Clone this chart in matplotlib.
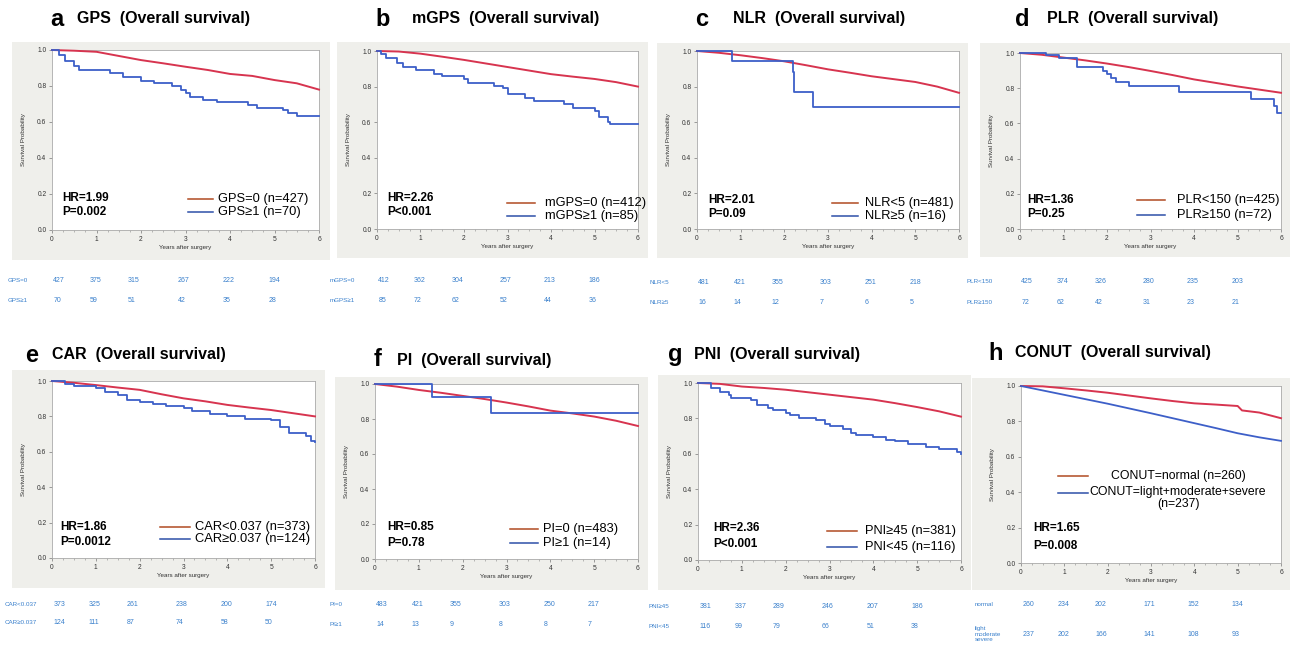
import matplotlib
matplotlib.use("Agg")
import matplotlib.pyplot as plt
from matplotlib.lines import Line2D
from matplotlib.patches import Rectangle

plt.rcParams['font.family'] = ['Liberation Sans', 'DejaVu Sans']

W, H = 1290, 646

# ---------------- data ----------------
panel_letters = ['a', 'b', 'c', 'd', 'e', 'f', 'g', 'h']
panel_names = ['GPS', 'mGPS', 'NLR', 'PLR', 'CAR', 'PI', 'PNI', 'CONUT']
hr_text = ['HR=1.99', 'HR=2.26', 'HR=2.01', 'HR=1.36', 'HR=1.86', 'HR=0.85', 'HR=2.36', 'HR=1.65']
p_text = ['P=0.002', 'P<0.001', 'P=0.09', 'P=0.25', 'P=0.0012', 'P=0.78', 'P<0.001', 'P=0.008']
legend_1 = ['GPS=0 (n=427)', 'mGPS=0 (n=412)', 'NLR<5 (n=481)', 'PLR<150 (n=425)',
            'CAR<0.037 (n=373)', 'PI=0 (n=483)', 'PNI≥45 (n=381)', 'CONUT=normal (n=260)']
legend_2 = ['GPS≥1 (n=70)', 'mGPS≥1 (n=85)', 'NLR≥5 (n=16)', 'PLR≥150 (n=72)',
            'CAR≥0.037 (n=124)', 'PI≥1 (n=14)', 'PNI<45 (n=116)', 'CONUT=light+moderate+severe\n(n=237)']
risk_label_1 = ['GPS=0', 'mGPS=0', 'NLR<5', 'PLR<150', 'CAR<0.037', 'PI=0', 'PNI≥45', 'normal']
risk_label_2 = ['GPS≥1', 'mGPS≥1', 'NLR≥5', 'PLR≥150', 'CAR≥0.037', 'PI≥1', 'PNI<45', 'light\nmoderate\nsevere']
risk_1 = [[427, 375, 315, 267, 222, 194],
          [412, 362, 304, 257, 213, 186],
          [481, 421, 355, 303, 251, 218],
          [425, 374, 326, 280, 235, 203],
          [373, 325, 261, 238, 200, 174],
          [483, 421, 355, 303, 250, 217],
          [381, 337, 289, 246, 207, 186],
          [260, 234, 202, 171, 152, 134]]
risk_2 = [[70, 59, 51, 42, 35, 28],
          [85, 72, 62, 52, 44, 36],
          [16, 14, 12, 7, 6, 5],
          [72, 62, 42, 31, 23, 21],
          [124, 111, 87, 74, 58, 50],
          [14, 13, 9, 8, 8, 7],
          [116, 99, 79, 66, 51, 38],
          [237, 202, 166, 141, 108, 93]]

half_years = [0, 0.5, 1, 1.5, 2, 2.5, 3, 3.5, 4, 4.5, 5, 5.5, 6]
red_t = [half_years] * 7 + [[0, 0.5, 1, 1.5, 2, 2.5, 3, 3.5, 4, 4.5, 5, 5.1, 5.5, 6]]
red_s = [[1.0, 0.996, 0.99, 0.967, 0.944, 0.926, 0.907, 0.889, 0.867, 0.856, 0.833, 0.815, 0.78],
         [1.0, 0.997, 0.985, 0.968, 0.95, 0.93, 0.91, 0.89, 0.87, 0.856, 0.843, 0.825, 0.80],
         [1.0, 0.99, 0.976, 0.96, 0.942, 0.92, 0.897, 0.878, 0.858, 0.842, 0.826, 0.80, 0.765],
         [1.0, 0.99, 0.974, 0.958, 0.94, 0.92, 0.898, 0.875, 0.85, 0.83, 0.81, 0.792, 0.774],
         [1.0, 0.99, 0.977, 0.963, 0.95, 0.925, 0.902, 0.885, 0.865, 0.85, 0.836, 0.818, 0.80],
         [1.0, 0.985, 0.966, 0.95, 0.932, 0.914, 0.894, 0.872, 0.848, 0.832, 0.814, 0.79, 0.76],
         [1.0, 0.995, 0.98, 0.972, 0.962, 0.948, 0.934, 0.92, 0.906, 0.886, 0.864, 0.84, 0.81],
         [1.0, 0.998, 0.987, 0.975, 0.962, 0.946, 0.93, 0.915, 0.902, 0.895, 0.887, 0.862, 0.85, 0.818]]

blue_t = [[0, 0.15, 0.3, 0.5, 0.6, 1.3, 1.6, 2.0, 2.3, 2.7, 2.9, 3.0, 3.1, 3.4, 3.7, 4.4, 4.6, 5.2, 5.3, 5.5, 6.0],
          [0, 0.1, 0.2, 0.45, 0.6, 0.9, 1.3, 1.5, 2.0, 2.1, 2.7, 2.9, 3.0, 3.4, 3.6, 4.3, 4.5, 5.0, 5.1, 5.3, 5.35, 6.0],
          [0, 0.8, 2.2, 2.22, 2.65, 6.0],
          [0, 0.6, 0.9, 1.3, 1.9, 2.0, 2.1, 2.2, 2.5, 3.65, 5.3, 5.85, 5.9, 6.0],
          [0, 0.3, 0.5, 1.0, 1.2, 1.5, 1.7, 2.0, 2.3, 2.6, 3.0, 3.2, 3.6, 4.0, 4.4, 5.0, 5.2, 5.4, 5.8, 5.9, 6.0],
          [0, 1.3, 2.65, 6.0],
          [0, 0.3, 0.5, 0.7, 0.75, 1.2, 1.35, 1.6, 1.7, 2.0, 2.1, 2.3, 2.7, 2.9, 3.0, 3.3, 3.5, 3.6, 4.0, 4.3, 4.5, 4.8, 5.2, 5.5, 5.9, 6.0],
          half_years]
blue_s = [[1.0, 0.97, 0.94, 0.91, 0.89, 0.87, 0.85, 0.83, 0.815, 0.80, 0.78, 0.76, 0.74, 0.725, 0.71, 0.695, 0.68, 0.665, 0.65, 0.635, 0.635],
          [1.0, 0.985, 0.96, 0.93, 0.91, 0.895, 0.87, 0.86, 0.84, 0.82, 0.805, 0.79, 0.76, 0.735, 0.72, 0.705, 0.68, 0.665, 0.63, 0.60, 0.59, 0.59],
          [1.0, 0.944, 0.88, 0.767, 0.687, 0.687],
          [1.0, 0.99, 0.97, 0.92, 0.90, 0.88, 0.86, 0.836, 0.81, 0.778, 0.74, 0.70, 0.657, 0.657],
          [1.0, 0.985, 0.97, 0.96, 0.94, 0.92, 0.895, 0.88, 0.87, 0.86, 0.85, 0.83, 0.815, 0.80, 0.785, 0.78, 0.74, 0.705, 0.69, 0.66, 0.655],
          [1.0, 0.924, 0.835, 0.835],
          [1.0, 0.97, 0.95, 0.93, 0.915, 0.905, 0.875, 0.86, 0.845, 0.83, 0.82, 0.805, 0.79, 0.77, 0.755, 0.74, 0.72, 0.705, 0.695, 0.68, 0.67, 0.655, 0.64, 0.625, 0.61, 0.60],
          [1.0, 0.975, 0.95, 0.925, 0.9, 0.873, 0.846, 0.818, 0.79, 0.762, 0.733, 0.71, 0.69]]
blue_steps = [True, True, True, True, True, True, True, False]

x_ticks = [0, 1, 2, 3, 4, 5, 6]
y_ticks = [0.0, 0.2, 0.4, 0.6, 0.8, 1.0]

# ---------------- layout (pixels) ----------------
axes_px = [(52, 319, 50, 230), (377, 638, 51, 229), (697, 959, 51, 229), (1020, 1281, 53, 229),
           (52, 315, 381, 558), (375, 638, 384, 559), (698, 961, 383, 560), (1021, 1281, 386, 563)]
box_px = [(12, 330, 42, 260), (337, 648, 42, 258), (657, 968, 43, 258), (980, 1290, 43, 257),
          (12, 325, 370, 588), (335, 648, 377, 590), (658, 971, 375, 590), (972, 1290, 378, 590)]
letter_pos = [(50, 19), (375, 19), (695, 19), (1015, 19), (25, 355), (374, 360), (668, 355), (988, 353)]
title_pos = [(77, 19), (412, 19), (733, 19), (1047, 19), (52, 355), (397, 360), (694, 355), (1015, 353)]
hr_pos = [(62, 198, 212), (387, 198, 212), (708, 200, 214), (1027, 200, 214),
          (60, 527, 542), (387, 527, 543), (713, 528, 544), (1033, 528, 546)]
leg_px = [(188, 213, 218, 199, 212), (507, 535, 545, 203, 216), (832, 858, 865, 203, 216),
          (1137, 1165, 1177, 200, 215), (160, 190, 195, 527, 539), (510, 538, 543, 529, 543),
          (827, 857, 865, 531, 547), (1058, 1088, 1178, 476, 493)]
risk_label_x = [8, 330, 650, 967, 5, 330, 648, 975]
risk_y = [(281, 300), (281, 300), (283, 302), (282, 302), (604, 623), (605, 624), (606, 626), (604, 634)]
risk_frac = [0.005, 0.14, 0.285, 0.47, 0.64, 0.81]

RED = '#d7344f'
BLUE = '#3d5fc8'
LEG_RED = '#b04a22'
LEG_BLUE = '#2d4fa8'
RISK = '#3a80cc'
BOXC = '#efefeb'


def fx(x):
    return x / W


def fy(y):
    return 1 - y / H


fig = plt.figure(figsize=(W / 100, H / 100), dpi=100)
fig.patch.set_facecolor('white')

for i in range(8):
    bl, br, bt, bb = box_px[i]
    fig.add_artist(Rectangle((fx(bl), fy(bb)), (br - bl) / W, (bb - bt) / H,
                             transform=fig.transFigure, facecolor=BOXC, edgecolor='none', zorder=0))
    l, r, t, b = axes_px[i]
    ax = fig.add_axes([fx(l), fy(b), (r - l) / W, (b - t) / H])
    ax.set_facecolor('white')
    ax.plot(red_t[i], red_s[i], color=RED, lw=1.4, clip_on=False, zorder=3)
    ax.plot(blue_t[i], blue_s[i], color=BLUE, lw=1.3, clip_on=False, zorder=4,
            drawstyle='steps-post' if blue_steps[i] else 'default')
    ax.set_xlim(0, 6)
    ax.set_ylim(0, 1.0)
    ax.set_xticks(x_ticks)
    ax.set_xticks([v / 4 for v in range(25)], minor=True)
    ax.set_yticks(y_ticks)
    ax.set_xticklabels([str(v) for v in x_ticks])
    ax.set_yticklabels([f'{v:.1f}' for v in y_ticks])
    ax.tick_params(axis='both', which='major', labelsize=4.8, length=2, width=0.5,
                   colors='#777777', labelcolor='#333333', pad=2)
    ax.tick_params(axis='x', which='minor', length=1.2, width=0.4, colors='#888888')
    for s in ax.spines.values():
        s.set_color('#aaaaaa')
        s.set_linewidth(0.6)
    ax.set_xlabel('Years after surgery', fontsize=4.5, labelpad=1.5, color='#333333')
    ax.set_ylabel('Survival Probability', fontsize=4.5, labelpad=8, color='#333333')

    # titles
    lx, ly = letter_pos[i]
    fig.text(fx(lx), fy(ly), panel_letters[i], fontsize=17, fontweight='bold', va='center', ha='left')
    tx, ty = title_pos[i]
    fig.text(fx(tx), fy(ty), panel_names[i] + '  (Overall survival)', fontsize=11.5,
             fontweight='bold', va='center', ha='left')

    # HR / P
    hx, hy1, hy2 = hr_pos[i]
    fig.text(fx(hx), fy(hy1), hr_text[i], fontsize=8.5, fontweight='bold', va='center', ha='left')
    fig.text(fx(hx), fy(hy2), p_text[i], fontsize=8.5, fontweight='bold', va='center', ha='left')

    # legend
    x1, x2, xt, y1, y2 = leg_px[i]
    fig.add_artist(Line2D([fx(x1), fx(x2)], [fy(y1), fy(y1)], transform=fig.transFigure,
                          color=LEG_RED, lw=1.1))
    fig.add_artist(Line2D([fx(x1), fx(x2)], [fy(y2), fy(y2)], transform=fig.transFigure,
                          color=LEG_BLUE, lw=1.1))
    if i == 7:
        fig.text(fx(xt), fy(y1), legend_1[i], fontsize=8.8, va='center', ha='center')
        fig.text(fx(xt), fy(y2 - 7), legend_2[i], fontsize=8.8, va='top', ha='center',
                 linespacing=1.05)
    else:
        fig.text(fx(xt), fy(y1), legend_1[i], fontsize=9.3, va='center', ha='left')
        fig.text(fx(xt), fy(y2), legend_2[i], fontsize=9.3, va='center', ha='left')

    # risk table
    ry1, ry2 = risk_y[i]
    fig.text(fx(risk_label_x[i]), fy(ry1), risk_label_1[i], fontsize=4.5, color=RISK, va='center', ha='left')
    fig.text(fx(risk_label_x[i]), fy(ry2), risk_label_2[i], fontsize=4.5, color=RISK, va='center',
             ha='left', linespacing=1.1)
    for k in range(6):
        xx = l + risk_frac[k] * (r - l)
        fig.text(fx(xx), fy(ry1), str(risk_1[i][k]), fontsize=5, color=RISK, va='center', ha='left')
        fig.text(fx(xx), fy(ry2), str(risk_2[i][k]), fontsize=5, color=RISK, va='center', ha='left')

fig.savefig('out.png', dpi=100)
